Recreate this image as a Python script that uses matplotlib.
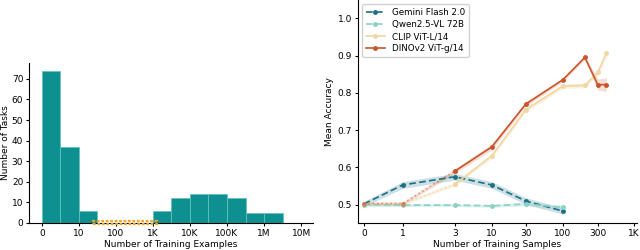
import numpy as np
import matplotlib.pyplot as plt
from matplotlib.patches import Rectangle

plt.rcParams['font.family'] = ['DejaVu Sans']
plt.rcParams['font.size'] = 6.5
plt.rcParams['xtick.major.size'] = 2.5
plt.rcParams['ytick.major.size'] = 2.5
plt.rcParams['xtick.major.pad'] = 1.5
plt.rcParams['ytick.major.pad'] = 1.5

# ---- left: histogram of training set sizes (x in decades, 0 -> "0") ----
bin_edges = [0, 0.5, 1, 1.5, 2, 2.5, 3, 3.5, 4, 4.5, 5, 5.5, 6, 6.5]
task_counts = [74, 37, 6, 0, 0, 0, 6, 12, 14, 14, 12, 5, 5]
hist_ticks = [0, 1, 2, 3, 4, 5, 6, 7]
hist_labels = ['0', '10', '100', '1K', '10K', '100K', '1M', '10M']

# ---- right: accuracy vs. number of training samples ----
sample_ticks = [0, 1, 3, 10, 30, 100, 300, 1000]
sample_labels = ['0', '1', '3', '10', '30', '100', '300', '1K']
# screen spacing of the ticks (the axis is not a plain log)
tick_spacing = [0, 39, 91, 128, 162, 199, 234, 270]

x_llm = [0, 1, 3, 10, 30, 100]
gemini = [0.502, 0.553, 0.575, 0.553, 0.510, 0.483]
gemini_err = [0.007, 0.009, 0.009, 0.009, 0.009, 0.008]
qwen = [0.500, 0.499, 0.499, 0.497, 0.502, 0.493]
qwen_err = [0.005, 0.004, 0.004, 0.004, 0.005, 0.006]

x_vis = [0, 1, 3, 10, 30, 100, 200, 300, 400]
clip = [0.503, 0.503, 0.555, 0.631, 0.755, 0.818, 0.820, 0.855, 0.906]
clip_err = [0.004, 0.004, 0.005, 0.006, 0.006, 0.006, 0.006, 0.008, 0.008]
dino = [0.503, 0.503, 0.590, 0.655, 0.770, 0.835, 0.895, 0.822, 0.822]
dino_err = [0.004, 0.004, 0.006, 0.008, 0.006, 0.005, 0.006, 0.015, 0.018]

c_gem = '#1b7085'
c_qwen = '#8cd0c6'
c_clip = '#f1d7a4'
c_dino = '#c9552a'
c_bar = '#0f9090'


def g(x):
    x = np.asarray(x, dtype=float)
    return np.where(x < 1, x - 1, np.log10(np.maximum(x, 1)))


def g_inv(u):
    u = np.asarray(u, dtype=float)
    return np.where(u < 0, u + 1, 10 ** np.maximum(u, 0))


g_anchor = np.concatenate([[-2], g(sample_ticks), [4]])
p_anchor = np.concatenate([[-39], tick_spacing, [342]])


def fwd(x):
    return np.interp(g(x), g_anchor, p_anchor)


def inv(p):
    return g_inv(np.interp(p, p_anchor, g_anchor))


fig = plt.figure(figsize=(6.4, 2.5), dpi=100)

ax1 = fig.add_axes([0.045, 0.108, 0.444, 0.64])
ax1.bar(bin_edges[:-1], task_counts, width=np.diff(bin_edges), align='edge',
        color=c_bar, edgecolor='#63c2c0', linewidth=0.6)
ax1.add_patch(Rectangle((1.38, -0.4), 1.72, 1.6, fill=False, edgecolor='#f3a52a',
                        linewidth=1.6, linestyle=(0, (1.2, 0.8)), clip_on=False, zorder=5))
ax1.set_xticks(hist_ticks)
ax1.set_xticklabels(hist_labels)
ax1.set_xlim(-0.35, 7.32)
ax1.set_ylim(0, 77.7)
ax1.set_yticks([0, 10, 20, 30, 40, 50, 60, 70])
ax1.set_xlabel('Number of Training Examples', labelpad=1.5)
ax1.set_ylabel('Number of Tasks', labelpad=1.5)
for s in ['top', 'right']:
    ax1.spines[s].set_visible(False)

ax2 = fig.add_axes([0.559, 0.108, 0.436, 0.892])
ax2.set_xscale('function', functions=(fwd, inv))


def band(ax, x, y, e, color, alpha=0.25):
    y = np.array(y)
    e = np.array(e)
    ax.fill_between(x, y - e, y + e, color=color, alpha=alpha, linewidth=0)


band(ax2, x_llm, gemini, gemini_err, c_gem, 0.22)
band(ax2, x_llm, qwen, qwen_err, c_qwen, 0.3)
band(ax2, x_vis, clip, clip_err, c_clip, 0.35)
band(ax2, x_vis, dino, dino_err, c_dino, 0.2)

ax2.plot(x_llm, gemini, color=c_gem, ls=(0, (4, 2)), lw=1.2, marker='o', ms=2.5,
         label='Gemini Flash 2.0')
ax2.plot(x_llm, qwen, color=c_qwen, ls=(0, (4, 2)), lw=1.2, marker='o', ms=2.5,
         label='Qwen2.5-VL 72B')
# faded dotted part below 3 samples
ax2.plot(x_vis[:3], clip[:3], color=c_clip, ls=':', lw=1.2, marker='o', ms=2.5, alpha=0.7)
ax2.plot(x_vis[:3], dino[:3], color=c_dino, ls=':', lw=1.2, marker='o', ms=2.5, alpha=0.5)
ax2.plot(x_vis[2:], clip[2:], color=c_clip, lw=1.2, marker='o', ms=2.5,
         label='CLIP ViT-L/14')
ax2.plot(x_vis[2:], dino[2:], color=c_dino, lw=1.2, marker='o', ms=2.5,
         label='DINOv2 ViT-g/14')

ax2.set_xlim(inv(-6), inv(273))
ax2.set_xticks(sample_ticks)
ax2.set_xticklabels(sample_labels)
ax2.xaxis.set_minor_locator(plt.NullLocator())
ax2.set_ylim(0.451, 1.049)
ax2.set_yticks([0.5, 0.6, 0.7, 0.8, 0.9, 1.0])
ax2.set_xlabel('Number of Training Samples', labelpad=1.5)
ax2.set_ylabel('Mean Accuracy', labelpad=3)
for s in ['top', 'right']:
    ax2.spines[s].set_visible(False)
ax2.legend(loc='upper left', fontsize=6.3, handlelength=2.2, borderpad=0.4,
           labelspacing=0.35, framealpha=0.9)

fig.savefig('out.png', dpi=100)
